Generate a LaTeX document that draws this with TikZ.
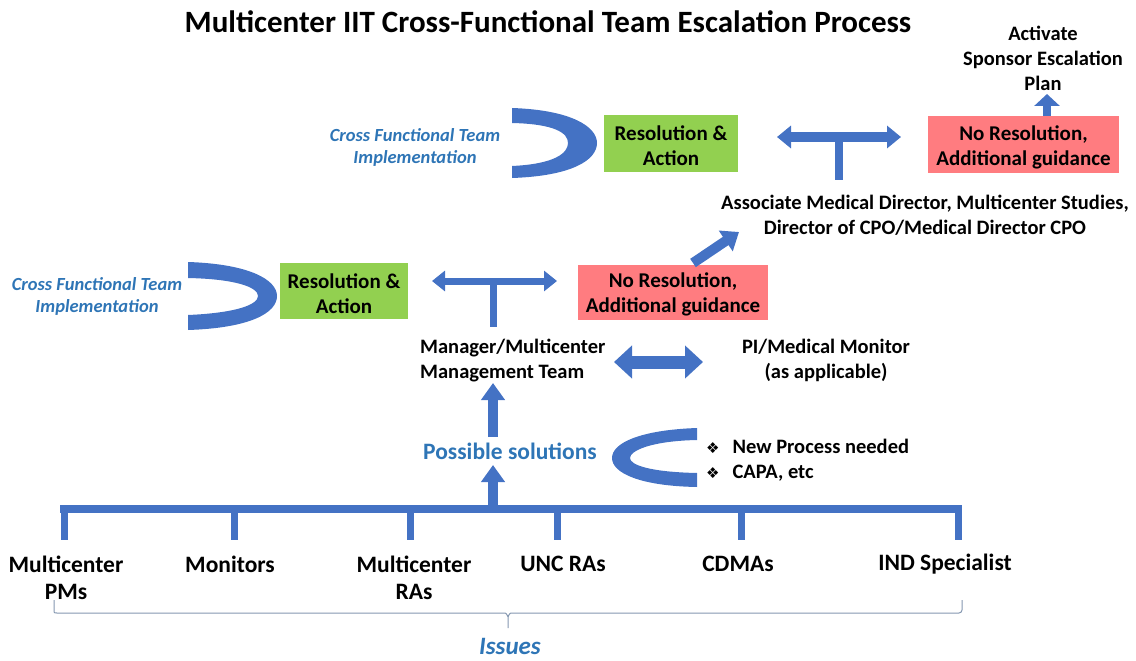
\documentclass[tikz,border=0pt]{standalone}
\usepackage{fontspec}
\setmainfont{Carlito}
\newfontfamily\symfont{DejaVu Sans}
\usetikzlibrary{arrows.meta}
\definecolor{arrowblue}{HTML}{4472C4}
\definecolor{textblue}{HTML}{2E75B6}
\definecolor{boxgreen}{HTML}{92D050}
\definecolor{boxred}{HTML}{FF7C80}
\definecolor{bracegray}{HTML}{8497B0}
\begin{document}
\begin{tikzpicture}[x=1pt,y=-1pt,
  lbl/.style={font=\bfseries\fontsize{20.5}{25}\selectfont, align=center, inner sep=0pt},
  boxlbl/.style={font=\bfseries\fontsize{21}{25}\selectfont, align=center, inner sep=0pt},
  botlbl/.style={font=\bfseries\fontsize{23.5}{27}\selectfont, align=center, inner sep=0pt},
  cft/.style={font=\bfseries\itshape\fontsize{18.5}{22}\selectfont, align=center, text=textblue, inner sep=0pt},
  gbox/.style={fill=boxgreen, inner sep=0pt},
  rbox/.style={fill=boxred, inner sep=0pt},
  fat/.style={draw=arrowblue, line width=#1},
  crescent/.style={fill=arrowblue}
]
\useasboundingbox (0,0) rectangle (1136,661);

% title
\node[font=\bfseries\fontsize{31}{34}\selectfont, inner sep=0pt] (title) at (548,22) {Multicenter IIT Cross-Functional Team Escalation Process};

% ---------- top row ----------
\node[cft] (cft1) at (415,147) {Cross Functional Team\\Implementation};
\fill[crescent] (512,108) .. controls (572,110) and (597,127) .. (597,143)
  .. controls (597,160) and (572,176) .. (512,178) -- (512,166)
  .. controls (555,164) and (568,153) .. (568,143)
  .. controls (568,133) and (555,124) .. (512,123) -- cycle;
\path[gbox] (604,115) rectangle (738,172);
\node[boxlbl] (res1) at (671,145.5) {Resolution \&\\Action};
\path[rbox] (928,116) rectangle (1119,173);
\node[boxlbl] (nores1) at (1023.5,147.5) {No Resolution,\\Additional guidance};
\node[lbl] (plan) at (1043,58) {Activate\\Sponsor Escalation\\Plan};
\node[lbl] (amd) at (925,215.5) {Associate Medical Director, Multicenter Studies,\\Director of CPO/Medical Director CPO};

\coordinate (t1l) at (777,137);
\coordinate (t1r) at (901,137);
\coordinate (t1m) at (839,137);
\coordinate (t1b) at (839,180);
\draw[fat=10pt, {Triangle[length=14pt,width=22pt]}-{Triangle[length=14pt,width=22pt]}] (t1l) -- (t1r);
\draw[fat=8pt] (t1m) -- (t1b);
\coordinate (planbase) at (1047,116);
\coordinate (plantip) at (1047,94);
\draw[fat=8pt, -{Triangle[length=12pt,width=25pt]}] (planbase) -- (plantip);

% ---------- middle row ----------
\node[cft] (cft2) at (97,296) {Cross Functional Team\\Implementation};
\fill[crescent] (188,262) .. controls (250,264) and (277,280) .. (277,296)
  .. controls (277,313) and (250,328) .. (188,330) -- (188,315)
  .. controls (235,313) and (258,305) .. (258,296)
  .. controls (258,287) and (235,279) .. (188,278) -- cycle;
\path[gbox] (280,263) rectangle (408,319);
\node[boxlbl] (res2) at (344,293.5) {Resolution \&\\Action};
\path[rbox] (578,265) rectangle (768,320);
\node[boxlbl] (nores2) at (673,294.5) {No Resolution,\\Additional guidance};

\coordinate (m1l) at (432,281);
\coordinate (m1r) at (557,281);
\coordinate (m1m) at (493,281);
\coordinate (m1b) at (493,327);
\draw[fat=7pt, {Triangle[length=13pt,width=20pt]}-{Triangle[length=13pt,width=20pt]}] (m1l) -- (m1r);
\draw[fat=7pt] (m1m) -- (m1b);
\coordinate (diagbase) at (693,263);
\coordinate (diagtip) at (739,232);
\draw[fat=10pt, -{Triangle[length=16pt,width=24pt]}] (diagbase) -- (diagtip);

\node[lbl, align=left, anchor=west] (mgr) at (420,360.5) {Manager/Multicenter\\Management Team};
\node[lbl] (pi) at (826,360.5) {PI/Medical Monitor\\(as applicable)};
\coordinate (mgrl) at (614,362);
\coordinate (mgrr) at (703,362);
\draw[fat=13pt, {Triangle[length=18pt,width=32pt]}-{Triangle[length=18pt,width=32pt]}] (mgrl) -- (mgrr);

% ---------- solutions ----------
\node[font=\bfseries\fontsize{23.5}{26}\selectfont, text=textblue, inner sep=0pt] (sol) at (510,451) {Possible solutions};
\coordinate (up1base) at (493,437);
\coordinate (up1tip) at (493,383);
\draw[fat=10pt, -{Triangle[length=17pt,width=23pt]}] (up1base) -- (up1tip);
\coordinate (up2base) at (493,509);
\coordinate (up2tip) at (493,465);
\draw[fat=10pt, -{Triangle[length=17pt,width=23pt]}] (up2base) -- (up2tip);

\fill[crescent] (697,428) .. controls (640,430) and (612,443) .. (612,458)
  .. controls (612,473) and (640,486) .. (697,487) -- (697,473)
  .. controls (650,472) and (630,465) .. (630,458)
  .. controls (630,451) and (650,441) .. (697,440) -- cycle;
\node[lbl, align=left, anchor=west] (bullets) at (706,460.5) {{\symfont\fontsize{15}{25}\selectfont ❖}\hspace{13pt}New Process needed\\{\symfont\fontsize{15}{25}\selectfont ❖}\hspace{13pt}CAPA, etc};

% ---------- bottom bar ----------
\draw[fat=8pt] (60,509) -- (962,509);
\foreach \n/\x in {pm/64, mon/234, ras/410, unc/557, cdma/741, ind/958}{
  \coordinate (drop\n top) at (\x,505);
  \coordinate (drop\n bot) at (\x,540);
  \draw[fat=7pt] (drop\n top) -- (drop\n bot);
}
\node[botlbl] (pms) at (66,577.5) {Multicenter\\PMs};
\node[botlbl] (monitors) at (230,564) {Monitors};
\node[botlbl] (mras) at (414,577.5) {Multicenter\\RAs};
\node[botlbl] (uncras) at (563,564) {UNC RAs};
\node[botlbl] (cdmas) at (738,564) {CDMAs};
\node[botlbl] (indspec) at (945,564) {IND Specialist};

% brace
\draw[bracegray, line width=1pt] (54,600) -- (54,612) to[out=-90,in=180] (57,613) -- (505,613) to[out=0,in=-90] (508,616) -- (508,628);
\draw[bracegray, line width=1pt] (508,616) to[out=-90,in=180] (511,613) -- (959,613) to[out=0,in=-90] (962,610) -- (962,600);
\node[font=\bfseries\itshape\fontsize{25}{28}\selectfont, text=textblue, inner sep=0pt] (issues) at (510,646) {Issues};
\end{tikzpicture}
\end{document}
